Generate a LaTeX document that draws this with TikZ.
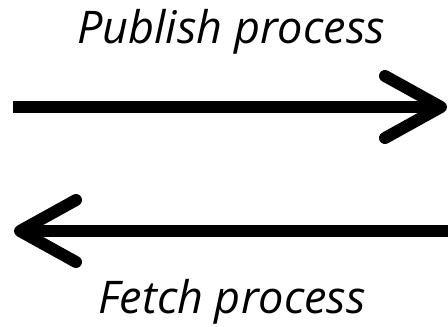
\documentclass[tikz,border=0pt]{standalone}
\usepackage{fontspec}
\setmainfont{Open Sans}
\usetikzlibrary{arrows.meta}

\tikzset{
    flow/.style={line width=12pt, -{Straight Barb[length=56pt, width=62pt, round]}},
    proc/.style={font=\fontsize{45}{45}\selectfont\itshape, inner sep=0pt, anchor=base}
}

\begin{document}
\begin{tikzpicture}[x=1pt,y=-1pt]
    \useasboundingbox (0,0) rectangle (448,327);
    \coordinate (pubL) at (13,107);
    \coordinate (pubR) at (447,107);
    \coordinate (fetchR) at (448,231);
    \coordinate (fetchL) at (14,231);
    \draw[flow] (pubL)--(pubR);
    \draw[flow] (fetchR)--(fetchL);
    \node[proc] (publish) at (231,43) {Publish process};
    \node[proc] (fetch) at (232,313) {Fetch process};
\end{tikzpicture}
\end{document}
